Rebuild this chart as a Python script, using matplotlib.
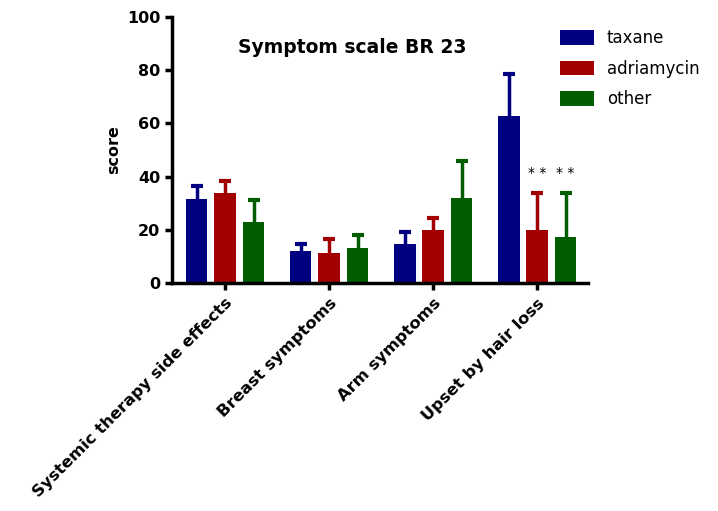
import numpy as np
import matplotlib.pyplot as plt

plt.rcParams['font.family'] = ['DejaVu Sans']

categories = ["Systemic therapy side effects", "Breast symptoms", "Arm symptoms", "Upset by hair loss"]
groups = ["taxane", "adriamycin", "other"]
colors = ["#000080", "#A20000", "#005E00"]

means = {
    "taxane":     [31.6, 12.1, 14.5, 62.9],
    "adriamycin": [34.0, 11.3, 19.8, 19.8],
    "other":      [23.0, 13.2, 32.1, 17.3],
}
sd = {
    "taxane":     [5.0, 2.4, 4.6, 15.7],
    "adriamycin": [4.2, 5.2, 4.5, 13.9],
    "other":      [8.1, 4.8, 13.9, 16.4],
}
# significance markers (group, category)
stars = [("adriamycin", 3), ("other", 3)]

fig = plt.figure(figsize=(7.18, 5.11), dpi=100)
ax = fig.add_axes([0.2396, 0.446, 0.5794, 0.521])

x = np.arange(len(categories))
w = 0.21
step = 0.274
for i, (g, c) in enumerate(zip(groups, colors)):
    pos = x + (i - 1) * step
    ax.bar(pos, means[g], w, color=c, label=g, zorder=2)
    eb = ax.errorbar(pos, means[g], yerr=[np.zeros(len(x)), sd[g]], fmt='none',
                     ecolor=c, elinewidth=2.5, capsize=4, capthick=3, zorder=1)
    eb[1][0].set_visible(False)  # no cap at the bar top

for g, k in stars:
    i = groups.index(g)
    ax.text(x[k] + (i - 1) * step, means[g][k] + sd[g][k] + 5.0, "* *",
            ha='center', va='bottom', fontsize=10)

ax.set_xlim(-0.51, 3.49)
ax.set_ylim(0, 100)
ax.set_yticks([0, 20, 40, 60, 80, 100])
ax.set_xticks(x)
ax.set_xticklabels(categories, rotation=45, ha='right', rotation_mode='anchor',
                   fontsize=11.8, fontweight='bold')
for lbl in ax.get_yticklabels():
    lbl.set_fontweight('bold')
    lbl.set_fontsize(11.5)
ax.tick_params(axis='both', direction='out', length=5, width=2.5)
ax.tick_params(axis='x', pad=4)
for s in ['top', 'right']:
    ax.spines[s].set_visible(False)
for s in ['left', 'bottom']:
    ax.spines[s].set_linewidth(2.5)

ax.set_ylabel("score", fontsize=11.5, fontweight='bold', labelpad=4)
fig.text(352 / 718, 1 - 47 / 511, "Symptom scale BR 23", ha='center', va='center',
         fontsize=13.5, fontweight='bold')

leg = ax.legend(loc='upper left', bbox_to_anchor=(0.897, 1.01), frameon=False,
                fontsize=12, handlelength=2.0, handleheight=1.0, labelspacing=0.75,
                handletextpad=0.8)

fig.savefig("out.png", dpi=100)
